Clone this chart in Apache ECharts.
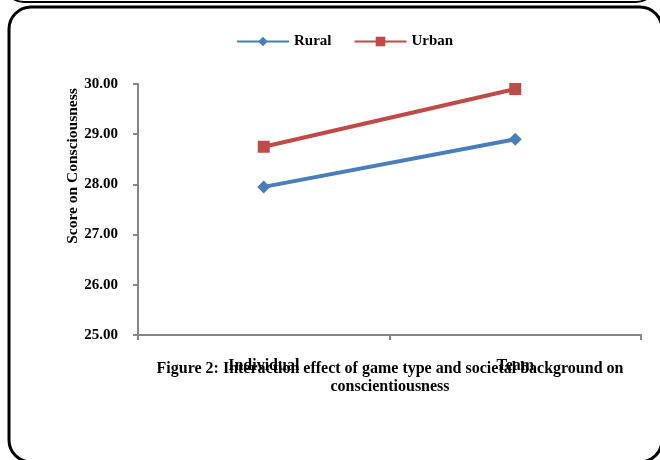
<!DOCTYPE html>
<html>
<head>
<meta charset="utf-8">
<script src="https://cdn.jsdelivr.net/npm/echarts@6/dist/echarts.min.js"></script>
<style>
  html, body { margin: 0; padding: 0; background: #fff; }
  #chart { width: 660px; height: 460px; }
</style>
</head>
<body>
<div id="chart"></div>
<script>
// Game type on the x axis, mean conscientiousness score per background group
const categories = ['Individual', 'Team'];
const rural = [27.95, 28.90];
const urban = [28.75, 29.90];
const yTicks = { min: 25, max: 30, interval: 1 };

const FONT = '"Liberation Serif", "Times New Roman", serif';

const chart = echarts.init(document.getElementById('chart'), null, { renderer: 'canvas' });

chart.setOption({
  animation: false,
  backgroundColor: '#ffffff',
  graphic: [
    // frame of the figure above (only its lower edge is in view)
    {
      type: 'rect', z: 0,
      shape: { x: 4, y: -60, width: 652, height: 62, r: 20 },
      style: { fill: 'none', stroke: '#000', lineWidth: 2 }
    },
    // chart frame
    {
      type: 'rect', z: 0,
      shape: { x: 9, y: 7, width: 653, height: 455, r: 22 },
      style: { fill: 'none', stroke: '#000', lineWidth: 3 }
    },
    // y axis title
    {
      type: 'text', z: 5,
      x: 73, y: 166, rotation: Math.PI / 2,
      style: {
        text: 'Score on Consciousness',
        font: 'bold 15.5px ' + FONT, fill: '#000',
        align: 'center', verticalAlign: 'middle'
      }
    }
  ],
  title: {
    text: 'Figure 2: Interaction effect of game type and societal background on\nconscientiousness',
    left: 385, top: 355, textAlign: 'center',
    textStyle: { fontFamily: FONT, fontWeight: 'bold', fontSize: 16, color: '#000', lineHeight: 18 }
  },
  legend: {
    left: 236, top: 34, padding: 0,
    itemWidth: 52, itemHeight: 12, itemGap: 22,
    textStyle: { fontFamily: FONT, fontWeight: 'bold', fontSize: 15, color: '#000' },
    data: ['Rural', 'Urban']
  },
  grid: { left: 138, right: 19, top: 84, bottom: 125, containLabel: false },
  xAxis: {
    type: 'category',
    data: categories,
    boundaryGap: true,
    axisLine: { lineStyle: { color: '#868686', width: 2 } },
    axisTick: { show: true, alignWithLabel: false, length: 5, lineStyle: { color: '#868686', width: 2 } },
    axisLabel: { margin: 23, fontFamily: FONT, fontWeight: 'bold', fontSize: 16, color: '#000' },
    splitLine: { show: false }
  },
  yAxis: {
    type: 'value',
    min: yTicks.min, max: yTicks.max, interval: yTicks.interval,
    axisLine: { show: true, lineStyle: { color: '#868686', width: 2 } },
    axisTick: { show: true, length: 5, lineStyle: { color: '#868686', width: 2 } },
    axisLabel: {
      margin: 20, fontFamily: FONT, fontWeight: 'bold', fontSize: 15, color: '#000',
      formatter: v => v.toFixed(2)
    },
    splitLine: { show: false }
  },
  series: [
    {
      name: 'Rural', type: 'line', data: rural,
      symbol: 'diamond', symbolSize: 13,
      lineStyle: { color: '#4A7EBB', width: 4 },
      itemStyle: { color: '#4A7EBB' }
    },
    {
      name: 'Urban', type: 'line', data: urban,
      symbol: 'rect', symbolSize: 12,
      lineStyle: { color: '#BE4B48', width: 4 },
      itemStyle: { color: '#BE4B48' }
    }
  ]
});
</script>
</body>
</html>
